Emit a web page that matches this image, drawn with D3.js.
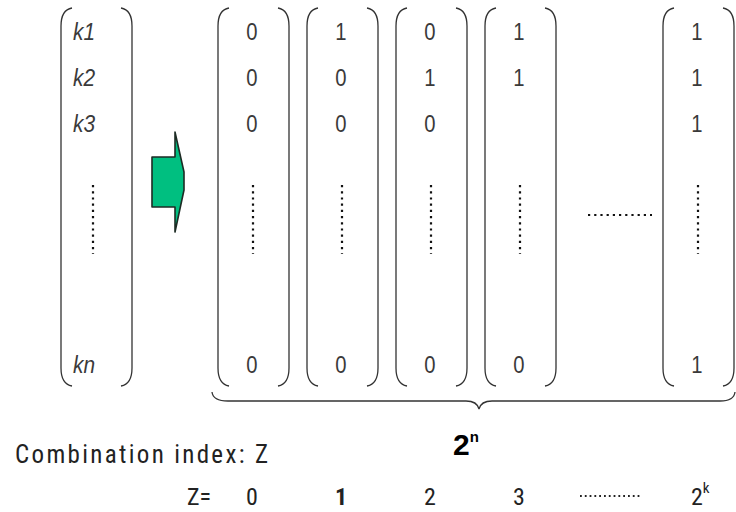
<!DOCTYPE html>
<html>
<head>
<meta charset="utf-8">
<script src="https://cdn.jsdelivr.net/npm/d3@7"></script>
<style>
  body { margin: 0; background: #fff; }
  svg { display: block; }
</style>
</head>
<body>
<div id="chart"></div>
<script>
// Diagram data
var rowLabels = ["k1", "k2", "k3", "kn"];
var columnKeys = ["0", "1", "2", "3", "...", "2k"];
var columnValues = [
    [0, 0, 0, 0],
    [1, 0, 0, 0],
    [0, 1, 0, 0],
    [1, 1, null, 0],
    null,
    [1, 1, 1, 1]
];
var zLabels = ["0", "1", "2", "3", "...", "2"];
var zSup = ["", "", "", "", "", "k"];
var braceLabel = "2";
var braceSup = "n";
var indexTitle = "Combination index: Z";

// Set SVG dimensions
var svgWidth = 736;
var svgHeight = 512;

var svg = d3.select("#chart")
    .append("svg")
    .attr("width", svgWidth)
    .attr("height", svgHeight);

var ink = "#333";
var sansFont = "'Liberation Sans', Arial, sans-serif";
var narrowFont = "'Roboto Condensed', 'Liberation Sans', sans-serif";
var colTop = 8, colBottom = 386;

// Row baselines
var yRow = d3.scaleOrdinal()
    .domain(rowLabels)
    .range([40, 86, 132, 373]);

// Column centres
var xCol = d3.scalePoint()
    .domain(columnKeys)
    .range([254, 699]);

// Bracket path helpers
function leftBracket(x, top, bottom) {
    return `M${x + 11},${top} Q${x},${top + 2} ${x},${top + 18} L${x},${bottom - 18} Q${x},${bottom - 2} ${x + 11},${bottom}`;
}
function rightBracket(x, top, bottom) {
    return `M${x - 11},${top} Q${x},${top + 2} ${x},${top + 18} L${x},${bottom - 18} Q${x},${bottom - 2} ${x - 11},${bottom}`;
}
function vdots(g, x) {
    g.append("line")
        .attr("x1", x).attr("x2", x)
        .attr("y1", 185).attr("y2", 254)
        .attr("stroke", "#111")
        .attr("stroke-width", 2.2)
        .attr("stroke-dasharray", "2.2,4");
}

// Left vector k1..kn
var leftVec = svg.append("g");
leftVec.append("path").attr("d", leftBracket(61, colTop, colBottom))
    .attr("fill", "none").attr("stroke", ink).attr("stroke-width", 1.3);
leftVec.append("path").attr("d", rightBracket(132, colTop, colBottom))
    .attr("fill", "none").attr("stroke", ink).attr("stroke-width", 1.3);
leftVec.selectAll("text")
    .data(rowLabels)
    .enter()
    .append("text")
    .attr("transform", d => `translate(73,${yRow(d)}) scale(0.95,1.08)`)
    .style("font-family", sansFont)
    .attr("font-style", "italic")
    .attr("font-size", 22)
    .attr("fill", "#3a3a3a")
    .text(d => d);
vdots(leftVec, 93);

// Green arrow
svg.append("path")
    .attr("d", "M152,157 L175,157 L175,132 L184,172 L184,190 L175,232 L175,207 L152,207 Z")
    .attr("fill", "#00bf80")
    .attr("stroke", "#1d2b24")
    .attr("stroke-width", 1.6)
    .attr("stroke-linejoin", "round");

// Combination columns
var colData = columnKeys.map((k, i) => ({ key: k, values: columnValues[i] }))
    .filter(d => d.values !== null);

var colGroup = svg.selectAll(".col")
    .data(colData)
    .enter()
    .append("g")
    .attr("class", "col");

colGroup.append("path")
    .attr("d", d => leftBracket(xCol(d.key) - 36, colTop, colBottom))
    .attr("fill", "none").attr("stroke", ink).attr("stroke-width", 1.3);
colGroup.append("path")
    .attr("d", d => rightBracket(xCol(d.key) + 35, colTop, colBottom))
    .attr("fill", "none").attr("stroke", ink).attr("stroke-width", 1.3);

colGroup.selectAll("text")
    .data(d => d.values.map((v, i) => ({ key: d.key, row: rowLabels[i], v: v }))
        .filter(c => c.v !== null))
    .enter()
    .append("text")
    .attr("transform", c => `translate(${xCol(c.key) - 2},${yRow(c.row)}) scale(0.92,1.08)`)
    .attr("text-anchor", "middle")
    .style("font-family", sansFont)
    .attr("font-size", 22)
    .attr("fill", "#3a3a3a")
    .text(c => c.v);

colGroup.each(function(d) {
    vdots(d3.select(this), xCol(d.key) - 1);
});

// Horizontal ellipsis between columns
svg.append("line")
    .attr("x1", xCol("...") - 22).attr("x2", xCol("...") + 42)
    .attr("y1", 215).attr("y2", 215)
    .attr("stroke", "#111")
    .attr("stroke-width", 2.2)
    .attr("stroke-dasharray", "2.2,4");

// Brace under columns
svg.append("path")
    .attr("d", "M212,392 Q213,401 228,401 L466,401 Q477,401 479,409 Q481,401 492,401 L720,401 Q734,401 735,392")
    .attr("fill", "none")
    .attr("stroke", ink)
    .attr("stroke-width", 1.3);

// 2^n label
var braceText = svg.append("text")
    .attr("x", 453)
    .attr("y", 455)
    .style("font-family", sansFont)
    .attr("font-weight", "bold")
    .attr("font-size", 30)
    .attr("fill", "#000");
braceText.append("tspan").text(braceLabel);
braceText.append("tspan")
    .attr("font-size", 15)
    .attr("dy", -13)
    .text(braceSup);

// Combination index title
svg.append("text")
    .attr("x", 15)
    .attr("y", 463)
    .style("font-family", narrowFont)
    .attr("font-size", 25)
    .attr("textLength", 253)
    .attr("lengthAdjust", "spacing")
    .attr("fill", "#222")
    .text(indexTitle);

// Z= row
svg.append("text")
    .attr("x", 187)
    .attr("y", 505)
    .style("font-family", narrowFont)
    .attr("font-size", 24)
    .attr("fill", "#222")
    .text("Z=");

var zText = svg.selectAll(".zlab")
    .data(columnKeys.map((k, i) => ({ key: k, label: zLabels[i], sup: zSup[i] }))
        .filter(d => d.label !== "..."))
    .enter()
    .append("text")
    .attr("class", "zlab")
    .attr("x", d => xCol(d.key) - 8)
    .attr("y", 505)
    .attr("text-anchor", "start")
    .style("font-family", narrowFont)
    .attr("font-size", 24)
    .attr("font-weight", d => d.label === "1" ? "bold" : "normal")
    .attr("fill", "#222");
zText.append("tspan").text(d => d.label);
zText.append("tspan")
    .attr("font-size", 15)
    .attr("dy", -12)
    .attr("fill", "#222")
    .text(d => d.sup);

// Z ellipsis
svg.append("line")
    .attr("x1", xCol("...") - 30).attr("x2", xCol("...") + 32)
    .attr("y1", 496).attr("y2", 496)
    .attr("stroke", "#222")
    .attr("stroke-width", 1.8)
    .attr("stroke-dasharray", "1.8,3");
</script>
</body>
</html>
